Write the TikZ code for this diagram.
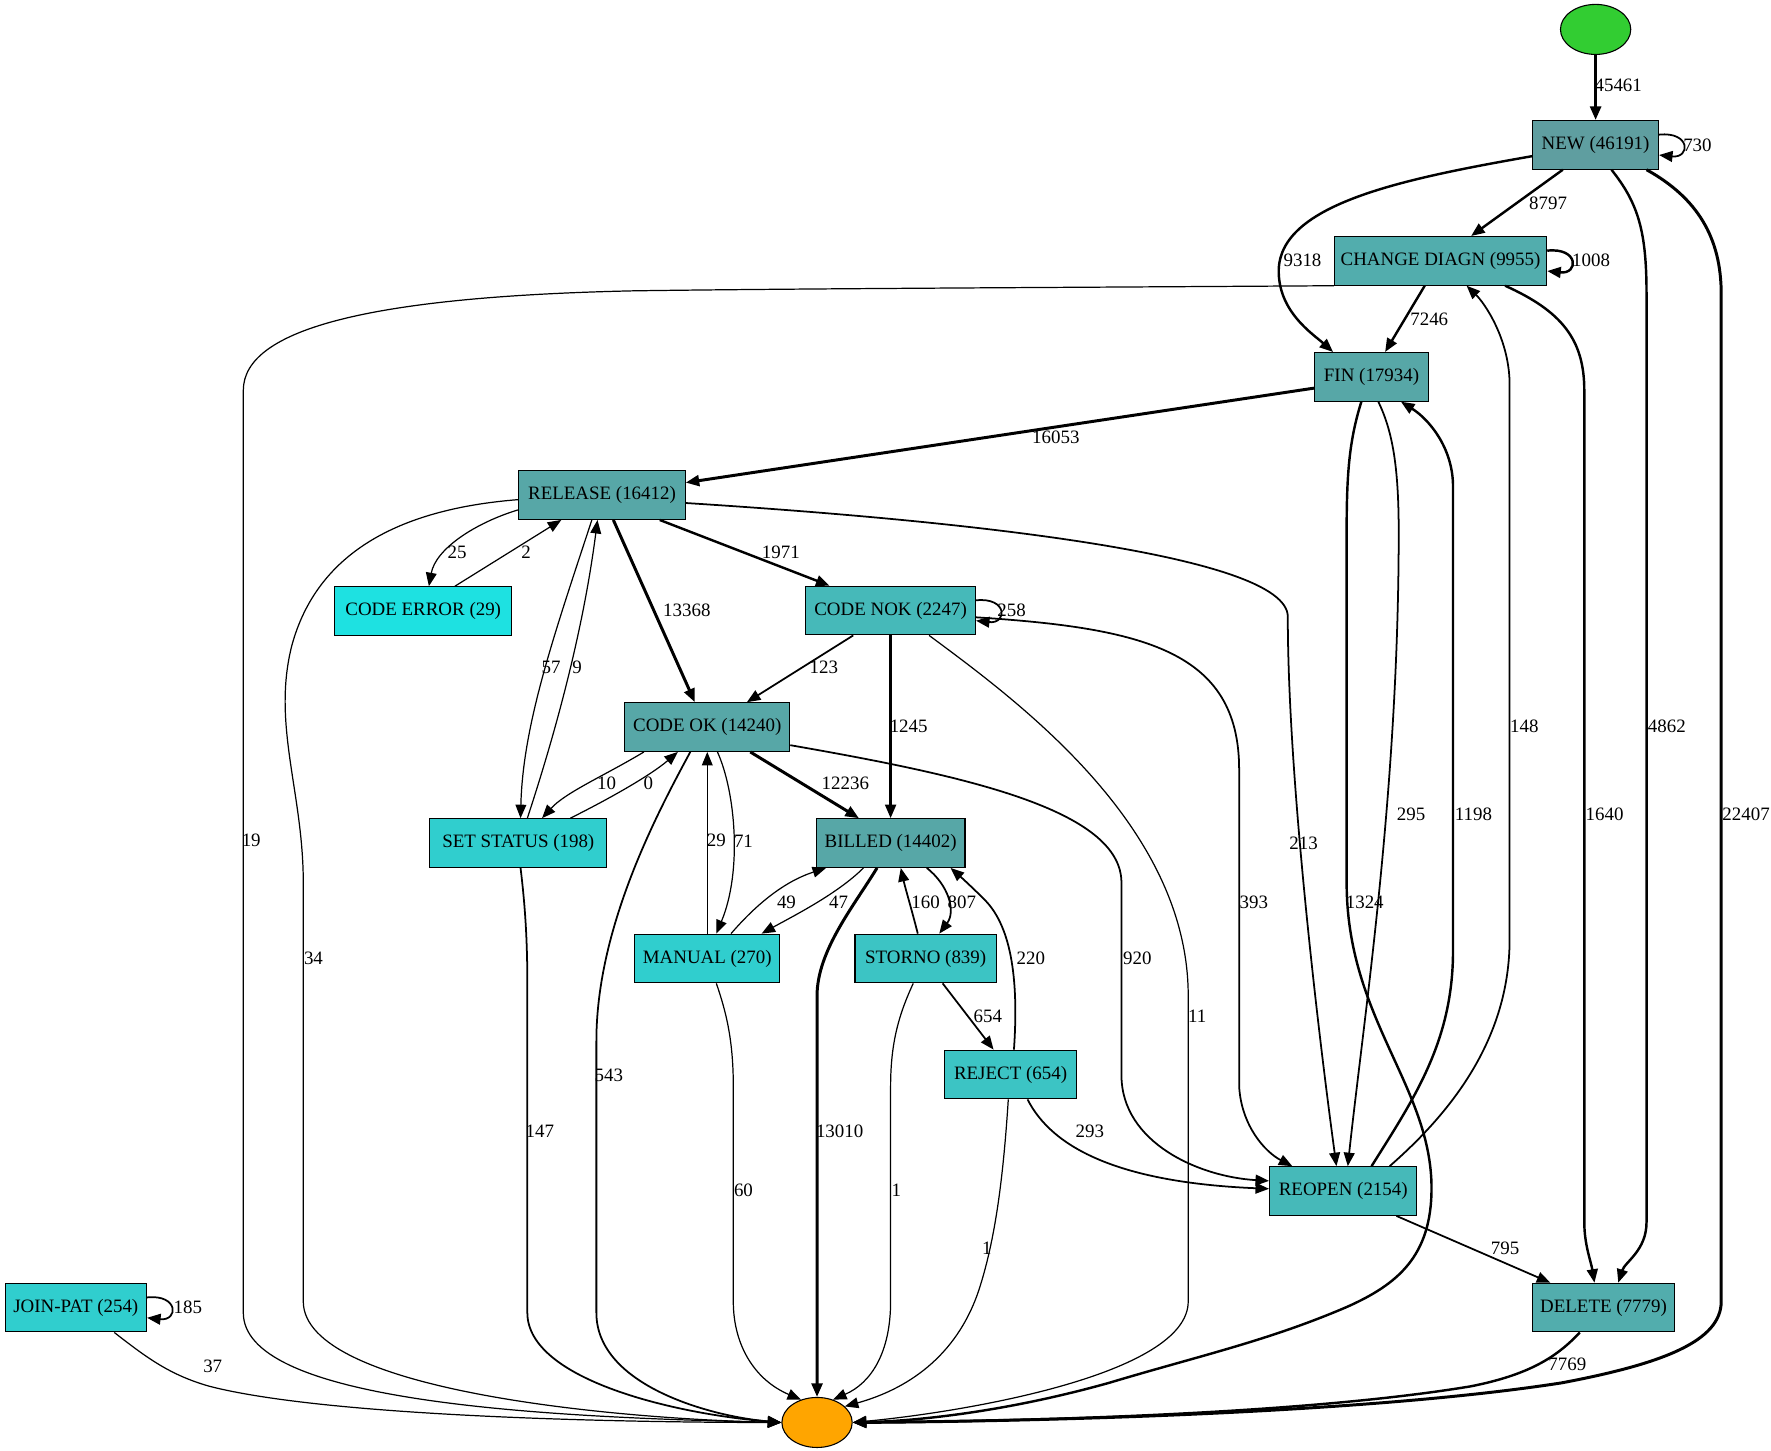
\documentclass[tikz,border=0pt]{standalone}
\usepackage{fontspec}
\setmainfont{Liberation Serif}
\usetikzlibrary{arrows.meta,calc,shapes.geometric}

\definecolor{startgreen}{RGB}{50,205,50}
\definecolor{stoporange}{RGB}{255,165,0}
\definecolor{tealA}{RGB}{95,158,160}
\definecolor{tealB}{RGB}{87,167,167}
\definecolor{tealC}{RGB}{82,173,173}
\definecolor{tealD}{RGB}{70,185,185}
\definecolor{tealE}{RGB}{60,196,196}
\definecolor{tealF}{RGB}{48,206,206}
\definecolor{tealG}{RGB}{30,225,225}

\tikzset{
    state/.style={draw, line width=0.8pt, rectangle, minimum height=36pt, inner xsep=2pt,
        font=\fontsize{14}{16}\selectfont},
    terminal/.style={draw, line width=0.8pt, ellipse, minimum width=52pt, minimum height=37pt},
    cnt/.style={inner sep=0pt, font=\fontsize{14}{16}\selectfont},
    thin flow/.style={line width=0.9pt, ->},
    mid flow/.style={line width=1.3pt, ->},
    thick flow/.style={line width=1.8pt, ->},
    heavy flow/.style={line width=2.2pt, ->},
}

\begin{document}
\begin{tikzpicture}[x=0.837pt, y=-0.837pt, >={Triangle[length=10pt,width=8pt]}]
    \useasboundingbox (0,0) rectangle (1565,1282);

    % states
    \node[terminal, fill=startgreen] (start) at (1410,26) {};
    \node[state, fill=tealA, minimum width=93pt] (new) at (1410,128) {NEW (46191)};
    \node[state, fill=tealC, minimum width=157pt] (chg) at (1273,230.5) {CHANGE DIAGN (9955)};
    \node[state, fill=tealB, minimum width=84.5pt] (fin) at (1212,333) {FIN (17934)};
    \node[state, fill=tealB, minimum width=123pt] (rel) at (532,437.5) {RELEASE (16412)};
    \node[state, fill=tealG, minimum width=131pt] (cerr) at (374,540) {CODE ERROR (29)};
    \node[state, fill=tealD, minimum width=125.5pt] (cnok) at (787,539.5) {CODE NOK (2247)};
    \node[state, fill=tealB, minimum width=122pt] (cok) at (625,642.5) {CODE OK (14240)};
    \node[state, fill=tealF, minimum width=131pt] (setst) at (458,745) {SET STATUS (198)};
    \node[state, fill=tealB, minimum width=110pt] (bill) at (787,745) {BILLED (14402)};
    \node[state, fill=tealF, minimum width=107pt] (man) at (625,847) {MANUAL (270)};
    \node[state, fill=tealE, minimum width=104.6pt] (stor) at (818,847) {STORNO (839)};
    \node[state, fill=tealE, minimum width=98pt] (rej) at (893,949.5) {REJECT (654)};
    \node[state, fill=tealD, minimum width=109pt] (reop) at (1187,1052.5) {REOPEN (2154)};
    \node[state, fill=tealC, minimum width=105.5pt] (del) at (1417,1155.5) {DELETE (7779)};
    \node[state, fill=tealF, minimum width=104.6pt] (join) at (67,1155.5) {JOIN-PAT (254)};
    \node[terminal, fill=stoporange] (stop) at (722,1257) {};

    % from the top
    \draw[heavy flow] (start) -- (new);
    \draw[mid flow] ($(new.east)+(0,-9)$) .. controls +(28,-3) and +(28,3) .. ($(new.east)+(0,9)$);
    \draw[thick flow] ($(new.south)+(-29,0)$) -- ($(chg.north)+(27,0)$);
    \draw[thick flow] ($(new.west)+(0,10)$) .. controls (1240,158) and (1132,180) .. (1130,238)
        .. controls (1129,275) and (1160,295) .. ($(fin.north)+(-34,0)$);
    \draw[thick flow] ($(new.south)+(14,0)$) .. controls (1448,180) and (1455,205) .. (1455,260)
        -- (1455,1080) .. controls (1455,1105) and (1436,1115) .. ($(del.north)+(13,0)$);
    \draw[heavy flow] ($(new.south east)+(-11,0)$) .. controls (1500,175) and (1521,210) .. (1521,260)
        -- (1521,1150) .. controls (1521,1185) and (1470,1205) .. (1380,1222)
        .. controls (1200,1250) and (900,1256) .. (stop.east);

    \draw[thick flow] ($(chg.east)+(0,-9)$) .. controls +(28,-3) and +(28,3) .. ($(chg.east)+(0,9)$);
    \draw[thick flow] ($(chg.south)+(-14,0)$) -- ($(fin.north)+(12,0)$);
    \draw[thick flow] ($(chg.south)+(57,0)$) .. controls (1380,275) and (1400,300) .. (1400,345)
        -- (1400,1080) .. controls (1400,1100) and (1406,1115) .. ($(del.north)+(-8,0)$);
    \draw[thin flow] (chg.south west) .. controls (950,254) and (700,255) .. (560,257)
        .. controls (330,262) and (215,290) .. (215,345) -- (215,1160)
        .. controls (215,1235) and (450,1252) .. (stop.west);

    % FIN
    \draw[heavy flow] ($(fin.west)+(0,10)$) -- ($(rel.east)+(0,-11)$);
    \draw[mid flow] ($(fin.south)+(6,0)$) .. controls (1230,380) and (1236,410) .. (1236,470)
        .. controls (1236,700) and (1205,900) .. ($(reop.north)+(4,0)$);
    \draw[thick flow] ($(fin.south)+(-9,0)$) .. controls (1192,390) and (1190,420) .. (1190,470)
        -- (1190,780) .. controls (1190,900) and (1265,960) .. (1265,1050)
        .. controls (1265,1110) and (1235,1135) .. (1190,1155)
        .. controls (1120,1185) and (1060,1198) .. (980,1222)
        .. controls (880,1250) and (800,1256) .. (stop.east);
    \draw[thick flow] ($(reop.north)+(25,0)$) .. controls (1250,970) and (1284,920) .. (1284,840)
        -- (1284,430) .. controls (1284,395) and (1262,370) .. ($(fin.south)+(26,0)$);
    \draw[mid flow] ($(reop.north)+(41,0)$) .. controls (1280,985) and (1334,920) .. (1334,830)
        -- (1334,340) .. controls (1334,300) and (1312,268) .. ($(chg.south)+(23,0)$);
    \draw[mid flow] ($(reop.south)+(47,0)$) -- ($(del.north)+(-47,0)$);
    \draw[thick flow] ($(del.south)+(-21,0)$) .. controls (1375,1200) and (1350,1215) .. (1300,1225)
        .. controls (1150,1250) and (900,1256) .. (stop.east);

    % RELEASE
    \draw[thin flow] ($(rel.west)+(0,13)$) .. controls (420,462) and (385,485) .. ($(cerr.north)+(5,0)$);
    \draw[thin flow] ($(cerr.north)+(28,0)$) -- ($(rel.south)+(-36,0)$);
    \draw[thin flow] ($(rel.west)+(0,4)$) .. controls (350,450) and (280,490) .. (258,570)
        .. controls (240,640) and (268,700) .. (268,780) -- (268,1150)
        .. controls (268,1230) and (550,1254) .. (stop.west);
    \draw[thin flow] ($(rel.south)+(-9,0)$) .. controls (490,560) and (462,640) .. ($(setst.north)+(2,0)$);
    \draw[thin flow] ($(setst.north)+(8,0)$) .. controls (490,650) and (515,560) .. ($(rel.south)+(-4,0)$);
    \draw[heavy flow] ($(rel.south)+(10,0)$) -- ($(cok.north)+(-11,0)$);
    \draw[thick flow] ($(rel.south)+(51,0)$) -- ($(cnok.north)+(-54,0)$);
    \draw[mid flow] ($(rel.east)+(0,7)$) .. controls (850,460) and (1138,490) .. (1138,545)
        .. controls (1138,700) and (1170,950) .. ($(reop.north)+(-6,0)$);

    % CODE NOK
    \draw[mid flow] ($(cnok.east)+(0,-9)$) .. controls +(28,-3) and +(28,3) .. ($(cnok.east)+(0,9)$);
    \draw[mid flow] ($(cnok.south)+(-33,0)$) -- ($(cok.north)+(35,0)$);
    \draw[thick flow] (cnok) -- (bill);
    \draw[thin flow] ($(cnok.south)+(34,0)$) .. controls (900,620) and (1050,730) .. (1050,880)
        -- (1050,1150) .. controls (1050,1215) and (850,1248) .. (stop.east);
    \draw[mid flow] ($(cnok.east)+(0,6)$) .. controls (1010,555) and (1095,575) .. (1095,680)
        -- (1095,960) .. controls (1097,995) and (1118,1018) .. ($(reop.north)+(-45,0)$);

    % CODE OK
    \draw[thin flow] ($(cok.south)+(-56,0)$) .. controls (535,685) and (500,700) .. ($(setst.north)+(21,0)$);
    \draw[thin flow] ($(setst.north)+(46,0)$) .. controls (540,705) and (575,685) .. ($(cok.south)+(-26,0)$);
    \draw[heavy flow] ($(cok.south)+(38,0)$) -- ($(bill.north)+(-28,0)$);
    \draw[thin flow] ($(cok.south)+(9,0)$) .. controls (650,700) and (656,770) .. ($(man.north)+(8,0)$);
    \draw[thin flow] (man.north) -- (cok.south);
    \draw[mid flow] ($(cok.south)+(-15,0)$) .. controls (580,720) and (527,820) .. (527,920)
        -- (527,1160) .. controls (527,1225) and (630,1252) .. (stop.west);
    \draw[mid flow] ($(cok.east)+(0,16)$) .. controls (850,685) and (991,715) .. (991,780)
        -- (991,950) .. controls (991,1010) and (1060,1040) .. ($(reop.west)+(0,-9)$);
    \draw[mid flow] ($(setst.south)+(2,0)$) .. controls (464,800) and (466,830) .. (466,870)
        -- (466,1160) .. controls (466,1220) and (600,1250) .. (stop.west);

    % BILLED and below
    \draw[thin flow] ($(bill.south)+(-24,0)$) .. controls (740,790) and (700,810) .. ($(man.north)+(48,0)$);
    \draw[thin flow] ($(man.north)+(21,0)$) .. controls (665,803) and (690,780) .. ($(bill.south)+(-57,0)$);
    \draw[mid flow] ($(bill.south)+(32,0)$) .. controls (838,782) and (845,805) .. ($(stor.north)+(12,0)$);
    \draw[mid flow] ($(stor.north)+(-7,0)$) .. controls (806,805) and (800,785) .. ($(bill.south)+(9,0)$);
    \draw[mid flow] ($(rej.north)+(3,0)$) .. controls (900,870) and (895,820) .. (870,795)
        .. controls (858,783) and (848,774) .. ($(bill.south)+(53,0)$);
    \draw[heavy flow] ($(bill.south)+(-12,0)$) .. controls (755,800) and (722,840) .. (722,880) -- (stop.north);
    \draw[thin flow] ($(man.south)+(8,0)$) .. controls (642,895) and (648,920) .. (648,960)
        -- (648,1150) .. controls (648,1190) and (668,1220) .. (stop.125);
    \draw[thin flow] ($(stor.south)+(-11,0)$) .. controls (795,895) and (787,920) .. (787,960)
        -- (787,1150) .. controls (787,1195) and (770,1222) .. (stop.55);
    \draw[mid flow] ($(stor.south)+(15,0)$) -- ($(rej.north)+(-15,0)$);
    \draw[thin flow] ($(rej.south)+(-2,0)$) .. controls (886,1050) and (878,1100) .. (865,1140)
        .. controls (845,1200) and (800,1228) .. (stop.30);
    \draw[mid flow] ($(rej.south)+(15,0)$) .. controls (930,1015) and (990,1045) .. ($(reop.west)+(0,-2)$);

    % JOIN-PAT
    \draw[mid flow] ($(join.east)+(0,-9)$) .. controls +(28,-3) and +(28,3) .. ($(join.east)+(0,9)$);
    \draw[thin flow] ($(join.south)+(34,0)$) .. controls (130,1200) and (150,1215) .. (185,1225)
        .. controls (290,1252) and (550,1257) .. (stop.west);

    % counts
    \node[cnt] (l45461) at (1430,75) {45461};
    \node[cnt] (l730) at (1500,128) {730};
    \node[cnt] (l8797) at (1368,180) {8797};
    \node[cnt] (l9318) at (1151,230) {9318};
    \node[cnt] (l1008) at (1406,230) {1008};
    \node[cnt] (l7246) at (1263,282) {7246};
    \node[cnt] (l16053) at (933,386) {16053};
    \node[cnt] (l25) at (404,488) {25};
    \node[cnt] (l2) at (465,488) {2};
    \node[cnt] (l1971) at (690,488) {1971};
    \node[cnt] (l13368) at (607,539) {13368};
    \node[cnt] (l258) at (894,539) {258};
    \node[cnt] (l57) at (487,590) {57};
    \node[cnt] (l9) at (510,590) {9};
    \node[cnt] (l123) at (728,590) {123};
    \node[cnt] (l148) at (1347,642) {148};
    \node[cnt] (l4862) at (1473,642) {4862};
    \node[cnt] (l1245) at (803,642) {1245};
    \node[cnt] (l10) at (536,692) {10};
    \node[cnt] (l0) at (573,692) {0};
    \node[cnt] (l12236) at (747,692) {12236};
    \node[cnt] (l1640) at (1418,720) {1640};
    \node[cnt] (l295) at (1247,720) {295};
    \node[cnt] (l1198) at (1302,720) {1198};
    \node[cnt] (l22407) at (1543,720) {22407};
    \node[cnt] (l19) at (222,743) {19};
    \node[cnt] (l29) at (633,743) {29};
    \node[cnt] (l71) at (657,743) {71};
    \node[cnt] (l213) at (1152,745) {213};
    \node[cnt] (l49) at (695,797) {49};
    \node[cnt] (l47) at (741,797) {47};
    \node[cnt] (l160) at (818,797) {160};
    \node[cnt] (l807) at (850,797) {807};
    \node[cnt] (l393) at (1108,797) {393};
    \node[cnt] (l1324) at (1206,797) {1324};
    \node[cnt] (l34) at (277,847) {34};
    \node[cnt] (l220) at (911,847) {220};
    \node[cnt] (l920) at (1005,847) {920};
    \node[cnt] (l11) at (1058,898) {11};
    \node[cnt] (l654) at (873,898) {654};
    \node[cnt] (l543) at (538,950) {543};
    \node[cnt] (l147) at (477,1000) {147};
    \node[cnt] (l13010) at (742,1000) {13010};
    \node[cnt] (l293) at (963,1000) {293};
    \node[cnt] (l60) at (657,1052) {60};
    \node[cnt] (l1a) at (792,1052) {1};
    \node[cnt] (l1b) at (872,1103) {1};
    \node[cnt] (l795) at (1330,1103) {795};
    \node[cnt] (l185) at (166,1155) {185};
    \node[cnt] (l37) at (188,1207) {37};
    \node[cnt] (l7769) at (1385,1206) {7769};
\end{tikzpicture}
\end{document}
